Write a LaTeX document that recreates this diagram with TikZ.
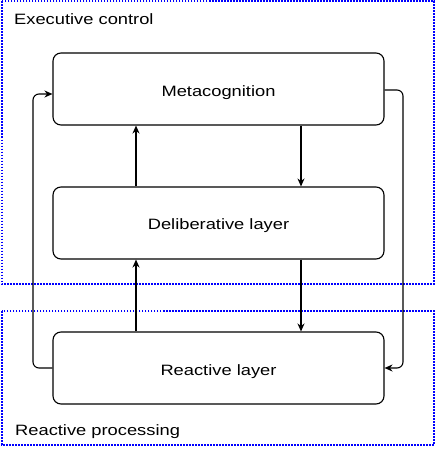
\documentclass[tikz,border=0pt]{standalone}
\usepackage{fontspec}
\setmainfont{Liberation Sans}[FakeStretch=1.22]
\usetikzlibrary{arrows.meta}
\begin{document}
\begin{tikzpicture}[x=1pt,y=-1pt,
  font=\fontsize{15}{18}\selectfont,
  layerbox/.style={draw, line width=1.1pt, rounded corners=8pt, minimum width=331pt, minimum height=72pt, inner sep=0pt, text height=12pt, text depth=0pt},
  regionbox/.style={draw=blue, line width=2pt, dash pattern=on 1.5pt off 1.5pt},
  link/.style={line width=1.1pt, -{Stealth[length=8pt,width=7pt]}},
  sidelink/.style={link, rounded corners=6pt},
  regionlabel/.style={anchor=base west, inner sep=0pt}]
\useasboundingbox (0,0) rectangle (436,449);
\draw[regionbox] (1.5,1.5) rectangle (434,284);
\draw[regionbox] (1.5,311) rectangle (434,444.5);
\node[regionlabel] (exec) at (14,25) {Executive control};
\node[regionlabel] (react) at (15,435.5) {Reactive processing};
\node[layerbox, text height=16pt] (meta) at (218.5,89) {Metacognition};
\node[layerbox] (delib) at (218.5,223) {Deliberative layer};
\node[layerbox, text height=14pt] (reac) at (218.5,368) {Reactive layer};
\coordinate (lx) at (33,0);
\coordinate (rx) at (403,0);
\draw[link] (reac.north -| 136,0) -- (delib.south -| 136,0);
\draw[link] (delib.north -| 136,0) -- (meta.south -| 136,0);
\draw[link] (meta.south -| 301,0) -- (delib.north -| 301,0);
\draw[link] (delib.south -| 301,0) -- (reac.north -| 301,0);
\draw[sidelink] (reac.west) -| (lx |- 0,94) -- (meta.west |- 0,94);
\draw[sidelink] (meta.east |- 0,90) -| (rx |- reac.east) -- (reac.east);
\end{tikzpicture}
\end{document}
